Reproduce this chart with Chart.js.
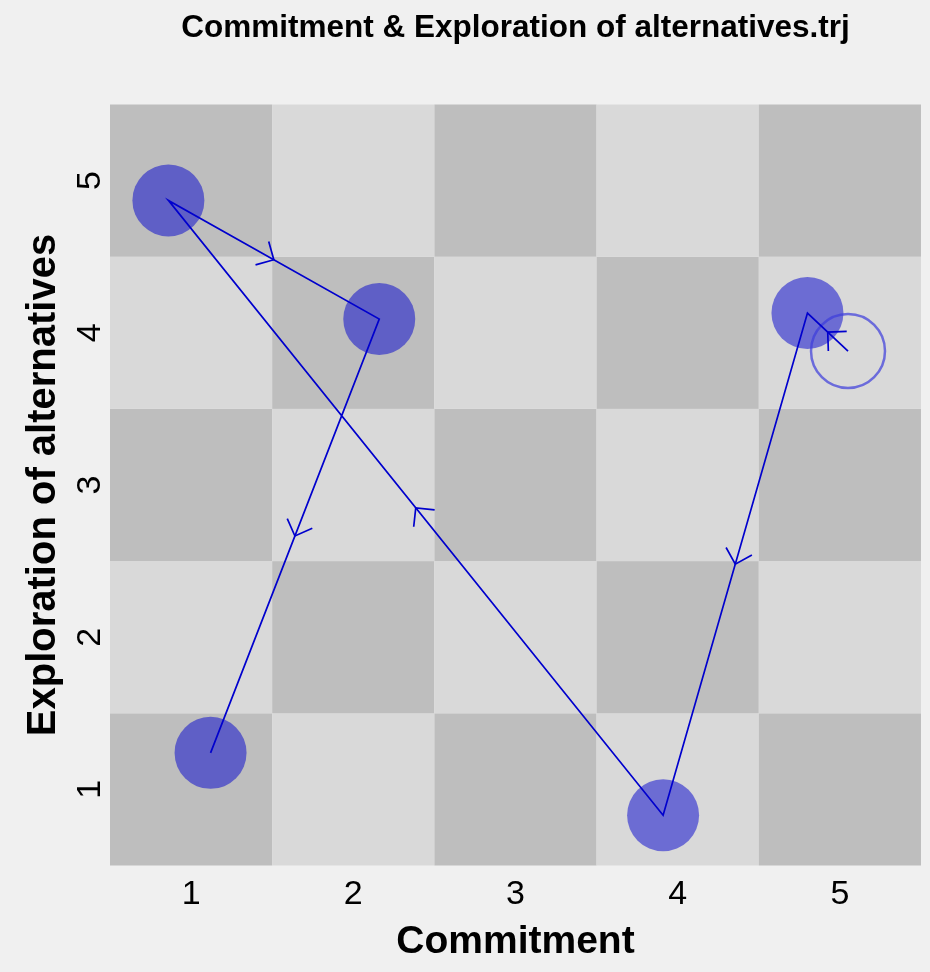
<!DOCTYPE html>
<html>
<head>
<meta charset="utf-8">
<script src="https://cdn.jsdelivr.net/npm/chart.js@4/dist/chart.umd.min.js"></script>
<style>
  html, body { margin: 0; padding: 0; background: #f0f0f0; }
  #wrap { width: 930px; height: 972px; }
</style>
</head>
<body>
<div id="wrap"><canvas id="c" width="930" height="972"></canvas></div>
<script>
// ---- data ----
const chartTitle = 'Commitment & Exploration of alternatives.trj';
const xAxisTitle = 'Commitment';
const yAxisTitle = 'Exploration of alternatives';
const tickValues = [1, 2, 3, 4, 5];
const tickLabels = ['1', '2', '3', '4', '5'];
// trajectory in visiting order (first = start, drawn as open circle)
const commitment  = [5.05, 4.80, 3.91, 0.86, 2.16, 1.12];
const exploration = [3.88, 4.13, 0.83, 4.87, 4.09, 1.24];

const trajectory = commitment.map((x, i) => ({ x: x, y: exploration[i] }));
const startPoint = trajectory.slice(0, 1);
const visited = trajectory.slice(1);

const DARK = '#bebebe', LIGHT = '#d9d9d9';
const LINE = 'rgb(0,0,205)';
const FILL = 'rgba(0,0,205,0.5)';

const checkerPlugin = {
  id: 'checker',
  beforeDatasetsDraw(chart) {
    const { ctx, scales: { x, y } } = chart;
    ctx.save();
    tickValues.forEach(cx => {
      tickValues.forEach(cy => {
        const l = x.getPixelForValue(cx - 0.5), r = x.getPixelForValue(cx + 0.5);
        const t = y.getPixelForValue(cy + 0.5), b = y.getPixelForValue(cy - 0.5);
        ctx.fillStyle = ((cx + cy) % 2 === 0) ? DARK : LIGHT;
        ctx.fillRect(l, t, r - l, b - t);
      });
    });
    ctx.restore();
  }
};

const arrowPlugin = {
  id: 'arrows',
  afterDatasetsDraw(chart) {
    const { ctx, scales: { x, y } } = chart;
    ctx.save();
    ctx.strokeStyle = LINE;
    ctx.lineWidth = 1.7;
    const len = 19, ang = Math.PI / 4;
    for (let i = 0; i < trajectory.length - 1; i++) {
      const x1 = x.getPixelForValue(trajectory[i].x), y1 = y.getPixelForValue(trajectory[i].y);
      const x2 = x.getPixelForValue(trajectory[i + 1].x), y2 = y.getPixelForValue(trajectory[i + 1].y);
      const mx = (x1 + x2) / 2, my = (y1 + y2) / 2;
      const th = Math.atan2(y2 - y1, x2 - x1);
      ctx.beginPath();
      ctx.moveTo(mx - len * Math.cos(th - ang), my - len * Math.sin(th - ang));
      ctx.lineTo(mx, my);
      ctx.lineTo(mx - len * Math.cos(th + ang), my - len * Math.sin(th + ang));
      ctx.stroke();
    }
    ctx.restore();
  }
};

new Chart(document.getElementById('c'), {
  type: 'scatter',
  data: {
    datasets: [
      {
        label: 'path', data: trajectory, showLine: true, order: 0,
        borderColor: LINE, borderWidth: 1.7, pointRadius: 0, tension: 0, fill: false
      },
      {
        label: 'start', data: startPoint, order: 1,
        pointRadius: 37, pointBorderWidth: 2.5,
        pointBackgroundColor: 'rgba(0,0,0,0)', pointBorderColor: 'rgba(60,60,220,0.7)'
      },
      {
        label: 'visited', data: visited, order: 2,
        pointRadius: 36, pointBorderWidth: 0,
        pointBackgroundColor: FILL, pointBorderColor: 'rgba(0,0,0,0)'
      }
    ]
  },
  options: {
    responsive: false,
    animation: false,
    events: [],
    layout: { autoPadding: false, padding: { left: 0, right: 9, top: 0, bottom: 0 } },
    plugins: {
      legend: { display: false },
      tooltip: { enabled: false },
      title: {
        display: true, text: chartTitle, fullSize: false,
        color: '#000',
        font: { family: 'Liberation Sans, Arial, sans-serif', size: 31.5, weight: 'bold', lineHeight: 1.2 },
        padding: { top: 9, bottom: 57.7 }
      }
    },
    scales: {
      x: {
        type: 'linear', min: 0.5, max: 5.5,
        afterBuildTicks: s => { s.ticks = tickValues.map(v => ({ value: v })); },
        afterFit: s => { s.height = 106.5; s.paddingLeft = 0; s.paddingRight = 0; },
        grid: { display: false, drawTicks: false },
        border: { display: false },
        ticks: {
          padding: 9, color: '#000', maxRotation: 0, minRotation: 0,
          font: { family: 'Liberation Sans, Arial, sans-serif', size: 34 },
          callback: v => tickLabels[tickValues.indexOf(v)]
        },
        title: {
          display: true, text: xAxisTitle, color: '#000',
          font: { family: 'Liberation Sans, Arial, sans-serif', size: 39, weight: 'bold', lineHeight: 1.2 },
          padding: { top: 0, bottom: 6 }
        }
      },
      y: {
        type: 'linear', min: 0.5, max: 5.5,
        afterBuildTicks: s => { s.ticks = tickValues.map(v => ({ value: v })); },
        afterFit: s => { s.width = 110; s.paddingTop = 0; s.paddingBottom = 0; },
        grid: { display: false, drawTicks: false },
        border: { display: false },
        ticks: {
          padding: 10, color: '#000', minRotation: 90, maxRotation: 90, crossAlign: 'center',
          font: { family: 'Liberation Sans, Arial, sans-serif', size: 34 },
          callback: v => tickLabels[tickValues.indexOf(v)]
        },
        title: {
          display: true, text: yAxisTitle, color: '#000',
          font: { family: 'Liberation Sans, Arial, sans-serif', size: 40, weight: 'bold', lineHeight: 1.2 },
          padding: { top: 20, bottom: 0 }
        }
      }
    }
  },
  plugins: [checkerPlugin, arrowPlugin]
});
</script>
</body>
</html>
